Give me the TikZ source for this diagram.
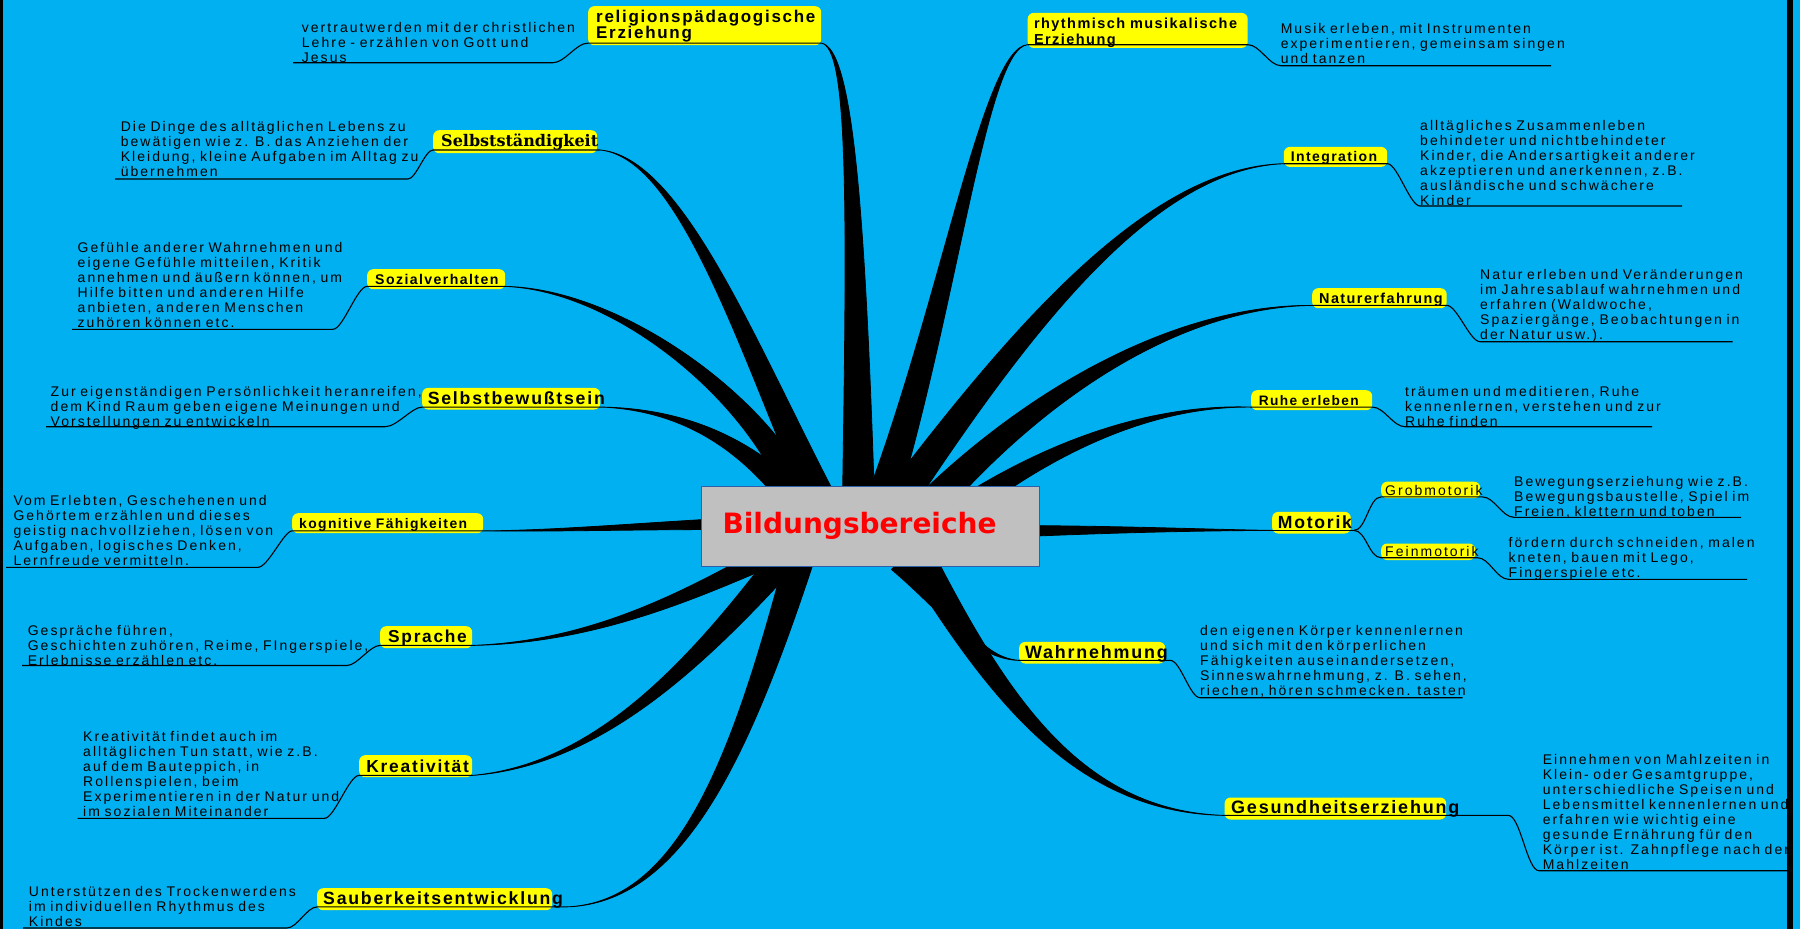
\documentclass[tikz,border=0pt]{standalone}
\usepackage{fontspec}
\usetikzlibrary{calc}
\setmainfont{Liberation Sans}
\newfontfamily\descfont[LetterSpace=14.5]{Liberation Sans}
\newfontfamily\topicfont[LetterSpace=10]{Liberation Sans}
\newfontfamily\titlefont{DejaVu Sans}
\newfontfamily\slabfont{DejaVu Serif}
\definecolor{bgblue}{HTML}{00B0F0}
\definecolor{boxgray}{HTML}{C0C0C0}
\definecolor{boxedge}{HTML}{2F5FA8}
\definecolor{topicyellow}{HTML}{FFFF00}
\definecolor{titlered}{HTML}{FF0000}
\hyphenpenalty=10000
\exhyphenpenalty=10000
\newcommand\thickbranch[5]{%
  \filldraw[branch] ($#1+#5$) .. controls ($#2+0.55*#5$) and ($#3+0.12*#5$) .. (#4)
     .. controls ($#3-0.12*#5$) and ($#2-0.55*#5$) .. ($#1-#5$) -- cycle;}
\tikzset{
  topicbox/.style={fill=topicyellow, rounded corners=6pt, inner ysep=0pt, anchor=north west, align=left},
  tsize/.style={font=\topicfont\bfseries\fontsize{#1}{16}\selectfont},
  slabsize/.style={font=\slabfont\bfseries\fontsize{#1}{16}\selectfont},
  plainsize/.style={font=\descfont\fontsize{#1}{15}\selectfont},
  desc/.style={anchor=base west, inner sep=0pt, text width=380pt, align=left, font=\descfont\fontsize{14}{15}\selectfont},
  uline/.style={line width=1.1pt, black},
  branch/.style={fill=black, draw=black, line width=0.8pt, line join=round},
  centerbox/.style={draw=boxedge, fill=boxgray, line width=1pt, anchor=north west, inner ysep=0pt, inner xsep=21pt,
      text width=296pt, text height=47.3pt, text depth=32.7pt, align=left, text=titlered,
      font=\titlefont\bfseries\fontsize{28}{30}\selectfont},
}
\begin{document}
\begin{tikzpicture}[x=1pt,y=-1pt]
\useasboundingbox (0,0) rectangle (1800,929);
\fill[bgblue] (0,0) rectangle (1800,929);

% ---------- center node (reference for the branches) ----------
\node[centerbox] (center) at (701,486) {\phantom{B}};

% ---------- topic nodes ----------
\node[topicbox, tsize=17, inner xsep=8pt, text width=217pt, text height=16.7pt, text depth=22.3pt] (relig) at (588,6) {religionspädagogische\\Erziehung};
\node[topicbox, tsize=14.5, inner xsep=6.3pt, text width=207.4pt, text height=16pt, text depth=19pt] (rhyth) at (1027.5,12.7) {rhythmisch~musikalische\\Erziehung};
\node[topicbox, slabsize=16, inner xsep=8pt, text width=148pt, text height=16.7pt, text depth=6.3pt] (selbstst) at (433,130) {Selbstständigkeit};
\node[topicbox, tsize=14, inner xsep=7pt, text width=89.3pt, text height=15pt, text depth=5pt] (integ) at (1283.7,146.7) {Integration};
\node[topicbox, tsize=14.1, inner xsep=8pt, text width=122pt, text height=15pt, text depth=5pt] (sozial) at (367,269) {Sozialverhalten};
\node[topicbox, tsize=14.4, inner xsep=7pt, text width=120.5pt, text height=15.3pt, text depth=4.7pt] (natur) at (1312,288) {Naturerfahrung};
\node[topicbox, tsize=17.7, inner xsep=5.6pt, text width=166.8pt, text height=16.6pt, text depth=5pt] (selbstbew) at (422,387.7) {Selbstbewußtsein};
\node[topicbox, tsize=13.7, inner xsep=7.7pt, text width=105.6pt, text height=15pt, text depth=5pt] (ruhe) at (1251,390) {Ruhe~erleben};
\node[topicbox, tsize=13.9, inner xsep=7pt, text width=177pt, text height=15.3pt, text depth=4.7pt] (kogn) at (292,513) {kognitive~Fähigkeiten};
\node[topicbox, tsize=17.6, inner xsep=5.7pt, text width=67.2pt, text height=16.6pt, text depth=5pt] (motorik) at (1272,511.7) {Motorik};
\node[topicbox, plainsize=14, inner xsep=4pt, text width=91pt, text height=13.5pt, text depth=3pt] (grob) at (1381,481.5) {Grobmotorik};
\node[topicbox, plainsize=14, inner xsep=4pt, text width=86pt, text height=12.7pt, text depth=3.8pt] (fein) at (1381,543.3) {Feinmotorik};
\node[topicbox, tsize=17.3, inner xsep=8pt, text width=76pt, text height=16.7pt, text depth=5.3pt] (sprache) at (380,626) {Sprache};
\node[topicbox, tsize=17.9, inner xsep=6pt, text width=134pt, text height=16.6pt, text depth=5pt] (wahrn) at (1019,641.7) {Wahrnehmung};
\node[topicbox, tsize=17.4, inner xsep=7.2pt, text width=98.6pt, text height=17.7pt, text depth=4.3pt] (kreat) at (359,755) {Kreativität};
\node[topicbox, tsize=18, inner xsep=6.6pt, text width=208.4pt, text height=16pt, text depth=6pt] (gesund) at (1224.4,797.3) {Gesundheitserziehung};
\node[topicbox, tsize=17.7, inner xsep=6pt, text width=223pt, text height=16.5pt, text depth=5.5pt] (sauber) at (317,888) {Sauberkeitsentwicklung};

% underline ends of the topic nodes
\coordinate (relig-l) at ($(relig.south west)+(0,-2.3)$);
\coordinate (relig-r) at ($(relig.south east)+(0,-2.3)$);
\coordinate (rhyth-l) at ($(rhyth.south west)+(0,-3.4)$);
\coordinate (rhyth-r) at ($(rhyth.south east)+(0,-3.4)$);
\coordinate (selbstst-l) at ($(selbstst.south west)+(0,-3.4)$);
\coordinate (selbstst-r) at ($(selbstst.south east)+(3,-3.4)$);
\coordinate (integ-l) at ($(integ.south west)+(0,-3.4)$);
\coordinate (integ-r) at ($(integ.south east)+(0,-3.4)$);
\coordinate (sozial-l) at ($(sozial.south west)+(0,-3)$);
\coordinate (sozial-r) at ($(sozial.south east)+(0,-3)$);
\coordinate (natur-l) at ($(natur.south west)+(0,-3)$);
\coordinate (natur-r) at ($(natur.south east)+(0,-3)$);
\coordinate (selbstbew-l) at ($(selbstbew.south west)+(0,-2.6)$);
\coordinate (selbstbew-r) at ($(selbstbew.south east)+(3,-2.6)$);
\coordinate (ruhe-l) at ($(ruhe.south west)+(0,-3.3)$);
\coordinate (ruhe-r) at ($(ruhe.south east)+(0,-3.3)$);
\coordinate (kogn-l) at ($(kogn.south west)+(0,-2.5)$);
\coordinate (kogn-r) at ($(kogn.south east)+(0,-2.5)$);
\coordinate (motorik-l) at ($(motorik.south west)+(0,-3.3)$);
\coordinate (motorik-r) at ($(motorik.south east)+(3,-3.3)$);
\coordinate (grob-l) at ($(grob.south west)+(0,-1.5)$);
\coordinate (grob-r) at ($(grob.south east)+(2,-1.5)$);
\coordinate (fein-l) at ($(fein.south west)+(0,-2.5)$);
\coordinate (fein-r) at ($(fein.south east)+(2,-2.5)$);
\coordinate (sprache-l) at ($(sprache.south west)+(0,-3)$);
\coordinate (sprache-r) at ($(sprache.south east)+(0,-3)$);
\coordinate (wahrn-l) at ($(wahrn.south west)+(0,-3.3)$);
\coordinate (wahrn-r) at ($(wahrn.south east)+(5,-3.3)$);
\coordinate (kreat-l) at ($(kreat.south west)+(0,-2)$);
\coordinate (kreat-r) at ($(kreat.south east)+(0,-2)$);
\coordinate (gesund-l) at ($(gesund.south west)+(0,-4.3)$);
\coordinate (gesund-r) at ($(gesund.south east)+(15,-4.3)$);
\coordinate (gesund-m) at ($(gesund-r)+(47,0)$);
\coordinate (sauber-l) at ($(sauber.south west)+(0,-3.5)$);
\coordinate (sauber-r) at ($(sauber.south east)+(14,-3.5)$);

% ---------- thick tapered branches from the center node ----------
\thickbranch{(center)+(-12,-26)}{(856,200)}{(850,48)}{relig-r}{(16,0)}
\thickbranch{(center)+(-50,-26)}{(745,340)}{(680,158)}{selbstst-r}{(15,-5)}
\thickbranch{(center)+(-70,-26)}{(760,400)}{(620,290)}{sozial-r}{(12,-9)}
\thickbranch{(center)+(-80,-31)}{(740,440)}{(680,410)}{selbstbew-r}{(8,-10)}
\thickbranch{(center)+(-130,-3)}{(640,526)}{(560,531)}{kogn-r}{(0,6)}
\thickbranch{(center)+(-80,19)}{(700,590)}{(600,642)}{sprache-r}{(6,10)}
\thickbranch{(center)+(-80,24)}{(700,660)}{(600,765)}{kreat-r}{(11,9)}
\thickbranch{(center)+(-70,29)}{(740,760)}{(680,903)}{sauber-r}{(14,4)}
\thickbranch{(center)+(30,34)}{(950,610)}{(975,658)}{wahrn-l}{(9,-9)}
\thickbranch{(center)+(50,34)}{(1000,700)}{(1080,812)}{gesund-l}{(13,-8)}
\thickbranch{(center)+(130,5)}{(1120,529)}{(1200,530)}{motorik-l}{(0,6)}
\thickbranch{(center)+(90,-16)}{(1060,440)}{(1160,405)}{ruhe-l}{(7,9)}
\thickbranch{(center)+(60,-21)}{(1040,390)}{(1180,306)}{natur-l}{(11,11)}
\thickbranch{(center)+(25,-21)}{(1020,330)}{(1150,168)}{integ-l}{(13,9)}
\thickbranch{(center)+(10,-21)}{(950,300)}{(985,48)}{rhyth-l}{(15,5)}

% center box drawn on top of the branches
\node[centerbox] (title) at (701,486) {Bildungsbereiche};

% ---------- descriptions ----------
\node[desc] (d-relig) at (301.7,32.3) {vertrautwerden mit der christlichen\\Lehre - erzählen von Gott und\\Jesus};
\node[desc] (d-selbstst) at (120.6,131.7) {Die Dinge des alltäglichen Lebens zu\\bewätigen wie z. B. das Anziehen der\\Kleidung, kleine Aufgaben im Alltag zu\\übernehmen};
\node[desc] (d-sozial) at (77.5,252.7) {Gefühle anderer Wahrnehmen und\\eigene Gefühle mitteilen, Kritik\\annehmen und äußern können, um\\Hilfe bitten und anderen Hilfe\\anbieten, anderen Menschen\\zuhören können etc.};
\node[desc] (d-selbstbew) at (50.5,396) {Zur eigenständigen Persönlichkeit heranreifen,\\dem Kind Raum geben eigene Meinungen und\\Vorstellungen zu entwickeln};
\node[desc] (d-kogn) at (13.3,505) {Vom Erlebten, Geschehenen und\\Gehörtem erzählen und dieses\\geistig nachvollziehen, lösen von\\Aufgaben, logisches Denken,\\Lernfreude vermitteln.};
\node[desc] (d-sprache) at (27.6,635) {Gespräche führen,\\Geschichten zuhören, Reime, FIngerspiele,\\Erlebnisse erzählen etc.};
\node[desc] (d-kreat) at (83,741.7) {Kreativität findet auch im\\alltäglichen Tun statt, wie z.B.\\auf dem Bauteppich, in\\Rollenspielen, beim\\Experimentieren in der Natur und\\im sozialen Miteinander};
\node[desc] (d-sauber) at (28.7,896.7) {Unterstützen des Trockenwerdens\\im individuellen Rhythmus des\\Kindes};
\node[desc] (d-rhyth) at (1280.6,33.3) {Musik erleben, mit Instrumenten\\experimentieren, gemeinsam singen\\und tanzen};
\node[desc] (d-integ) at (1420,130) {alltägliches Zusammenleben\\behindeter und nichtbehindeter\\Kinder, die Andersartigkeit anderer\\akzeptieren und anerkennen, z.B.\\ausländische und schwächere\\Kinder};
\node[desc] (d-natur) at (1480,279.3) {Natur erleben und Veränderungen\\im Jahresablauf wahrnehmen und\\erfahren (Waldwoche,\\Spaziergänge, Beobachtungen in\\der Natur usw.).};
\node[desc] (d-ruhe) at (1405,396) {träumen und meditieren, Ruhe\\kennenlernen, verstehen und zur\\Ruhe finden};
\node[desc] (d-grob) at (1514,486) {Bewegungserziehung wie z.B.\\Bewegungsbaustelle, Spiel im\\Freien, klettern und toben};
\node[desc] (d-fein) at (1508.5,547.7) {fördern durch schneiden, malen\\kneten, bauen mit Lego,\\Fingerspiele etc.};
\node[desc] (d-wahrn) at (1200,635) {den eigenen Körper kennenlernen\\und sich mit den körperlichen\\Fähigkeiten auseinandersetzen,\\Sinneswahrnehmung, z. B. sehen,\\riechen, hören schmecken. tasten};
\node[desc] (d-gesund) at (1542.6,764) {Einnehmen von Mahlzeiten in\\Klein- oder Gesamtgruppe,\\unterschiedliche Speisen und\\Lebensmittel kennenlernen und\\erfahren wie wichtig eine\\gesunde Ernährung für den\\Körper ist. Zahnpflege nach den\\Mahlzeiten};

% description underline ends
\coordinate (du-relig-a) at (293,62.7);      \coordinate (du-relig-b) at (553,62.7);
\coordinate (du-selbstst-a) at (115,179);    \coordinate (du-selbstst-b) at (408,179);
\coordinate (du-sozial-a) at (72,329.3);     \coordinate (du-sozial-b) at (333,329.3);
\coordinate (du-selbstbew-a) at (46,426.7);  \coordinate (du-selbstbew-b) at (385,426.7);
\coordinate (du-kogn-a) at (6,567.3);        \coordinate (du-kogn-b) at (258,567.3);
\coordinate (du-sprache-a) at (22,665.5);    \coordinate (du-sprache-b) at (347,665.5);
\coordinate (du-kreat-a) at (77.5,818.3);    \coordinate (du-kreat-b) at (324.5,818.3);
\coordinate (du-sauber-a) at (23,928);       \coordinate (du-sauber-b) at (287,928);
\coordinate (du-rhyth-a) at (1281,65.7);     \coordinate (du-rhyth-b) at (1551,65.7);
\coordinate (du-integ-a) at (1420,206);      \coordinate (du-integ-b) at (1682,206);
\coordinate (du-natur-a) at (1480,341.7);    \coordinate (du-natur-b) at (1732.6,341.7);
\coordinate (du-ruhe-a) at (1405,426.7);     \coordinate (du-ruhe-b) at (1652,426.7);
\coordinate (du-grob-a) at (1514,517.3);     \coordinate (du-grob-b) at (1741,517.3);
\coordinate (du-fein-a) at (1508.5,579.3);   \coordinate (du-fein-b) at (1747,579.3);
\coordinate (du-wahrn-a) at (1200,697.7);    \coordinate (du-wahrn-b) at (1462.6,697.7);
\coordinate (du-gesund-a) at (1539,870.7);   \coordinate (du-gesund-b) at (1787,870.7);

% ---------- thin connectors with underlines ----------
\draw[uline] (relig-r) -- (relig-l) .. controls +(-12,0) and +(12,0) .. (du-relig-b) -- (du-relig-a);
\draw[uline] (selbstst-r) -- (selbstst-l) .. controls +(-8,0) and +(8,0) .. (du-selbstst-b) -- (du-selbstst-a);
\draw[uline] (sozial-r) -- (sozial-l) .. controls +(-10,0) and +(10,0) .. (du-sozial-b) -- (du-sozial-a);
\draw[uline] (selbstbew-r) -- (selbstbew-l) .. controls +(-10,0) and +(12,0) .. (du-selbstbew-b) -- (du-selbstbew-a);
\draw[uline] (kogn-r) -- (kogn-l) .. controls +(-8,0) and +(10,0) .. (du-kogn-b) -- (du-kogn-a);
\draw[uline] (sprache-r) -- (sprache-l) .. controls +(-10,0) and +(10,0) .. (du-sprache-b) -- (du-sprache-a);
\draw[uline] (kreat-r) -- (kreat-l) .. controls +(-10,0) and +(10,0) .. (du-kreat-b) -- (du-kreat-a);
\draw[uline] (sauber-r) -- (sauber-l) .. controls +(-10,0) and +(10,0) .. (du-sauber-b) -- (du-sauber-a);
\draw[uline] (rhyth-l) -- (rhyth-r) .. controls +(12,0) and +(-12,0) .. (du-rhyth-a) -- (du-rhyth-b);
\draw[uline] (integ-l) -- (integ-r) .. controls +(10,0) and +(-10,0) .. (du-integ-a) -- (du-integ-b);
\draw[uline] (natur-l) -- (natur-r) .. controls +(10,0) and +(-10,0) .. (du-natur-a) -- (du-natur-b);
\draw[uline] (ruhe-l) -- (ruhe-r) .. controls +(12,0) and +(-12,0) .. (du-ruhe-a) -- (du-ruhe-b);
\draw[uline] (motorik-l) -- (motorik-r);
\draw[uline] (motorik-r) .. controls +(12,0) and +(-12,0) .. (grob-l) -- (grob-r) .. controls +(12,0) and +(-12,0) .. (du-grob-a) -- (du-grob-b);
\draw[uline] (motorik-r) .. controls +(12,0) and +(-12,0) .. (fein-l) -- (fein-r) .. controls +(12,0) and +(-12,0) .. (du-fein-a) -- (du-fein-b);
\draw[uline] (wahrn-l) -- (wahrn-r) .. controls +(10,0) and +(-10,0) .. (du-wahrn-a) -- (du-wahrn-b);
\draw[uline] (gesund-l) -- (gesund-r) -- (gesund-m) .. controls +(12,0) and +(-12,0) .. (du-gesund-a) -- (du-gesund-b);

% ---------- frame bars ----------
\fill[black] (0,0) rectangle (3.3,929);
\fill[bgblue] (1793,0) rectangle (1800,929);
\fill[black] (1787,0) rectangle (1793,929);
\end{tikzpicture}
\end{document}
